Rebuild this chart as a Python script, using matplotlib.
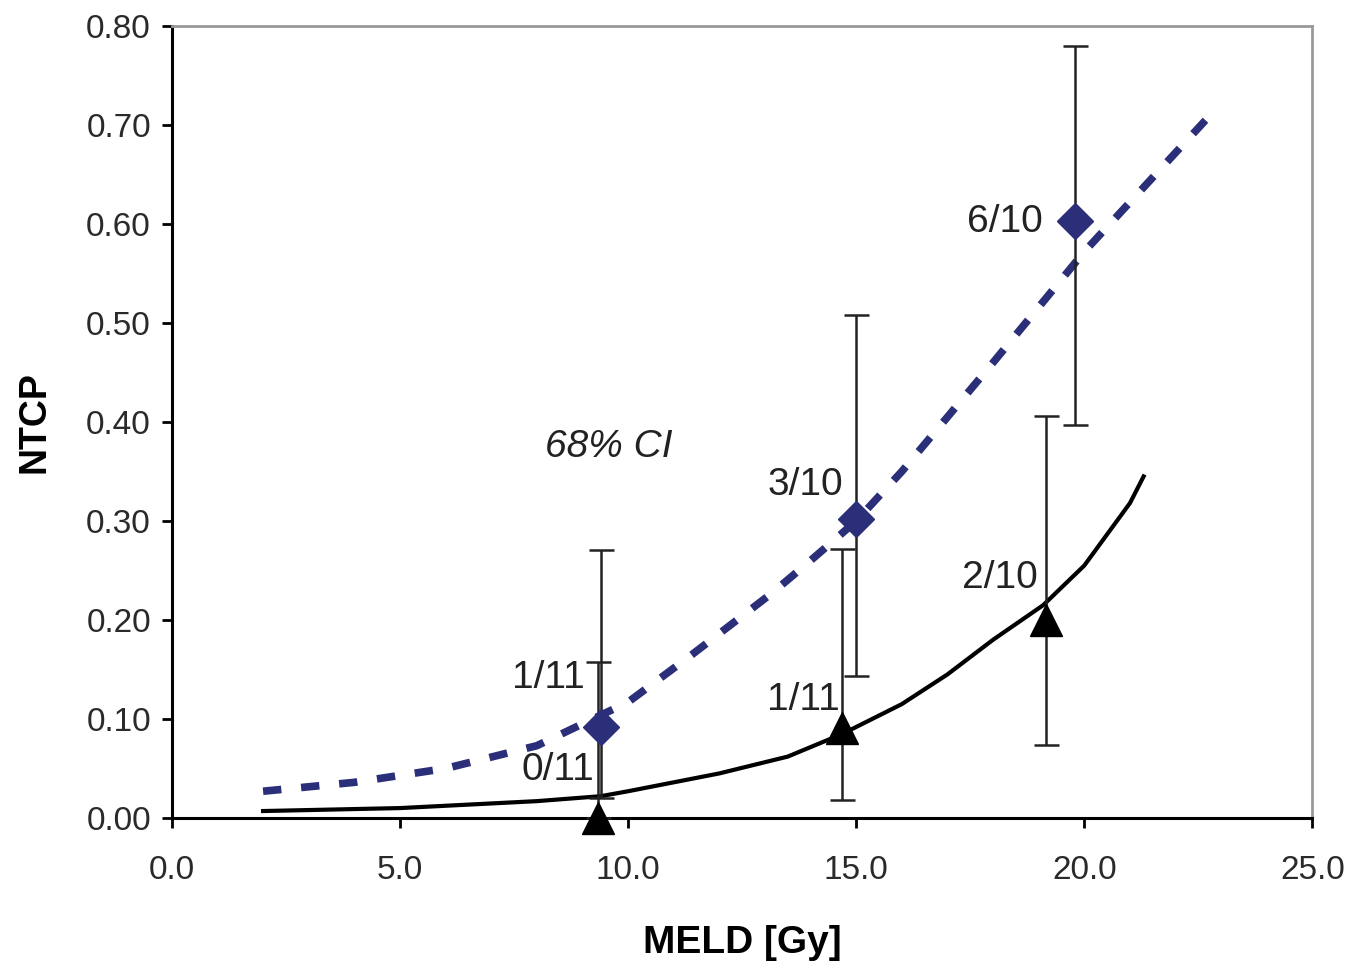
import matplotlib
matplotlib.use('Agg')
import matplotlib.pyplot as plt
from matplotlib.ticker import FormatStrFormatter

plt.rcParams['font.family'] = ['Liberation Sans', 'DejaVu Sans']

# fitted curves
fit_x_dash = [2, 4, 6, 8, 10, 11.4, 13.15, 14, 15, 16, 18, 20, 22, 22.7]
fit_y_dash = [0.027, 0.036, 0.050, 0.073, 0.117, 0.165, 0.227, 0.26, 0.30, 0.35, 0.46, 0.572, 0.672, 0.707]
fit_x_solid = [2, 5, 8, 9.4, 10, 12, 13.5, 14.7, 16, 17, 18, 19.1, 20, 21, 21.3]
fit_y_solid = [0.007, 0.010, 0.017, 0.022, 0.027, 0.045, 0.062, 0.085, 0.115, 0.145, 0.18, 0.215, 0.255, 0.318, 0.345]

# observed rates with 68% CI
dia_x = [9.4, 15.0, 19.8]
dia_y = [0.092, 0.302, 0.603]
dia_lo = [0.02, 0.143, 0.397]
dia_hi = [0.271, 0.508, 0.78]
tri_x = [9.35, 14.7, 19.15]
tri_y = [0.0, 0.091, 0.20]
tri_lo = [0.0, 0.018, 0.074]
tri_hi = [0.158, 0.272, 0.406]

dia_labels = ['1/11', '3/10', '6/10']
tri_labels = ['0/11', '1/11', '2/10']

navy = '#2b2e78'

fig = plt.figure(figsize=(13.53, 9.63), dpi=100)
ax = fig.add_axes([0.127, 0.1506, 0.843, 0.8224])

ax.plot(fit_x_dash, fit_y_dash, color=navy, lw=5.5, dashes=(2.4, 2.6), zorder=2)
ax.plot(fit_x_solid, fit_y_solid, color='black', lw=3, zorder=2)

err_d = [[y - lo for y, lo in zip(dia_y, dia_lo)], [hi - y for y, hi in zip(dia_y, dia_hi)]]
err_t = [[y - lo for y, lo in zip(tri_y, tri_lo)], [hi - y for y, hi in zip(tri_y, tri_hi)]]
ax.errorbar(tri_x, tri_y, yerr=err_t, fmt='^', color='black', ms=23, ecolor='#222222',
            elinewidth=1.8, capsize=9, capthick=1.8, zorder=3, clip_on=False)
ax.errorbar(dia_x, dia_y, yerr=err_d, fmt='D', color=navy, ms=18, ecolor='#222222',
            elinewidth=1.8, capsize=9, capthick=1.8, zorder=4)

dia_txt = [(8.25, 0.141), (13.88, 0.336), (18.27, 0.602)]
tri_txt = [(8.46, 0.048), (13.84, 0.119), (18.16, 0.242)]
for (tx, ty), s in zip(dia_txt, dia_labels):
    ax.text(tx, ty, s, fontsize=28, color='#222222', ha='center', va='center')
for (tx, ty), s in zip(tri_txt, tri_labels):
    ax.text(tx, ty, s, fontsize=28, color='#222222', ha='center', va='center')
ax.text(9.58, 0.375, '68% CI', fontsize=28, style='italic', color='#222222', ha='center', va='center')

ax.set_xlim(0, 25)
ax.set_ylim(0, 0.8)
ax.set_xticks([0, 5, 10, 15, 20, 25])
ax.set_yticks([0, 0.1, 0.2, 0.3, 0.4, 0.5, 0.6, 0.7, 0.8])
ax.xaxis.set_major_formatter(FormatStrFormatter('%.1f'))
ax.yaxis.set_major_formatter(FormatStrFormatter('%.2f'))
ax.tick_params(direction='out', length=7, width=2, labelsize=24, labelcolor='#2a2a2a', pad=8)
ax.tick_params(axis='x', pad=20)

for side in ['left', 'bottom']:
    ax.spines[side].set_linewidth(2.2)
for side in ['top', 'right']:
    ax.spines[side].set_color('#999999')
    ax.spines[side].set_linewidth(2)

ax.set_xlabel('MELD [Gy]', fontsize=28, fontweight='bold', labelpad=28)
ax.set_ylabel('NTCP', fontsize=27, fontweight='bold', labelpad=24)

fig.savefig('out.png', dpi=100)
